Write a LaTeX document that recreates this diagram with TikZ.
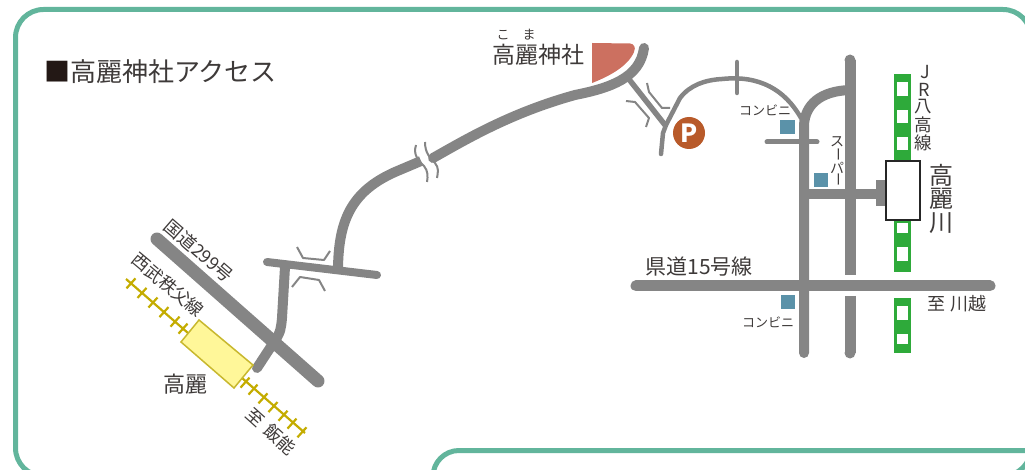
\documentclass[tikz,border=0pt]{standalone}
\usepackage{fontspec}
\setmainfont{Noto Sans CJK JP}
\definecolor{framegreen}{HTML}{62B59C}
\definecolor{roadgray}{HTML}{858585}
\definecolor{railgreen}{HTML}{2EAA3A}
\definecolor{railyellow}{HTML}{C4AC00}
\definecolor{inkc}{HTML}{3E3A39}
\definecolor{inkd}{HTML}{231815}
\definecolor{shopblue}{HTML}{5B92A9}
\definecolor{shrinered}{HTML}{CC7060}
\definecolor{parkbrown}{HTML}{B85A2A}
\definecolor{stationyellow}{HTML}{FFF799}
\definecolor{stationedge}{HTML}{C8B82E}
\tikzset{
  framel/.style={draw=framegreen,line width=5pt},
  road/.style={draw=roadgray,line cap=round,line join=round},
  markl/.style={draw=roadgray,line width=2pt,line join=round},
  shop/.style={fill=shopblue,draw=none},
  rgreen/.style={fill=railgreen,draw=none},
  rwin/.style={fill=white,draw=none},
  lab/.style={text=inkc,inner sep=0pt,font=\fontsize{#1pt}{#1pt}\selectfont},
  track/.style={draw=railyellow,line width=2.2pt},
}
\begin{document}
\begin{tikzpicture}[x=1pt,y=-1pt]
\useasboundingbox (0,0) rectangle (1025,470);
\clip (0,0) rectangle (1025,470);
% frames
\draw[framel,rounded corners=28pt] (15.5,476) -- (15.5,9.5) -- (1031,9.5) -- (1031,476) -- cycle;
\draw[framel,rounded corners=26pt] (433,520) -- (433,450.5) -- (1100,450.5);
% left roads
\draw[road,line width=13pt] (157,239) -- (318,381);
\draw[road,line width=8pt] (267,262) -- (377,275);
\draw[road,line width=10pt] (257,368) -- (274,342) .. controls (281,332) and (281,328) .. (282,318) -- (285,267);
\draw[road,line width=10pt,line cap=butt] (338,267) .. controls (339,222) and (350,192) .. (395,172) -- (421,161);
\draw[road,line width=10pt] (433,158) .. controls (465,140) and (510,113) .. (575,95) .. controls (610,88) and (640,78) .. (644,48);
% break marks
\draw[markl] (416,145) .. controls (413,155) and (418,160) .. (424,166) .. controls (428,171) and (428,176) .. (427,182);
\draw[markl] (425,142) .. controls (425,153) and (430,158) .. (435,163) .. controls (439,168) and (438,172) .. (437,178);
\draw[markl] (297,247) -- (303,258) -- (324,260) -- (330,251);
\draw[markl] (292,287) -- (300,277) -- (319,280) -- (325,291);
\draw[markl] (647,83) -- (649,92) -- (662,108) -- (670,108);
\draw[markl] (626,101) -- (635,102) -- (649,118) -- (646,127);
% shrine
\fill[shrinered] (592,43) -- (630,43.5) .. controls (634,44) and (636,47) .. (634,52) .. controls (628,66) and (610,76) .. (592,83) -- cycle;
% branch to parking
\draw[road,line width=5.5pt,line cap=butt] (628,78) -- (665,125);
\draw[road,line width=4.5pt] (661,154) -- (663,133) -- (666,125) -- (680,98) .. controls (690,85) and (705,80) .. (722,79) .. controls (760,75) and (785,90) .. (801,118);
\draw[road,line width=4.5pt] (737,62) -- (737,93);
% parking
\fill[parkbrown] (689,133) circle[radius=16];
\node[inner sep=0pt,text=white,font=\fontsize{25pt}{25pt}\selectfont\bfseries] (pk) at (689,133) {P};
% rail green
\fill[rgreen] (894,74) rectangle (911,272);
\fill[rgreen] (894,298) rectangle (911,353);
\foreach \ya/\yb in {82/96,110/123,137/150,223/233,247/261,306/320,334/344}
  \fill[rwin] (897,\ya) rectangle (908,\yb);
% right roads
\draw[road,line width=10pt] (804,353) -- (804,125) .. controls (805,105) and (820,91) .. (850,90);
\draw[road,line width=11pt,line cap=butt] (850,60) -- (850,275);
\fill[roadgray] (850,60) circle[radius=5.5];
\draw[road,line width=11pt,line cap=butt] (850,296) -- (850,353);
\fill[roadgray] (850,353) circle[radius=5.5];
\draw[road,line width=5pt] (767,142) -- (817,142);
\draw[road,line width=10pt,line cap=butt] (804,194) -- (880,194);
\fill[roadgray] (876,180) rectangle (886,206);
\draw[road,line width=11pt] (636,286) -- (990,286);
% station
\draw[draw=black!85,line width=1.4pt,fill=white] (886,161) rectangle (920,220);
% shops
\fill[shop] (780,120) rectangle (795,134);
\fill[shop] (814,173) rectangle (828,187);
\fill[shop] (781,295) rectangle (795,309);
% Seibu line
\draw[track] (126,279) -- (188,333);
\draw[track] (242,378) -- (305,433);
\foreach \tx in {131,142,153,164,175,183,245,253,263,273,283,292,302}
  \draw[track] ({\tx+4.5},{279+(\tx-126)*0.871-5}) -- ({\tx-4.5},{279+(\tx-126)*0.871+5});
\draw[draw=stationedge,line width=1.5pt,fill=stationyellow] (199,320) -- (253,365) -- (234,388) -- (181,342) -- cycle;
% labels
\node[lab=26,anchor=west] (title) at (44,72) {\textcolor{inkd}{■}高麗神社アクセス};
\node[lab=23] (shrine) at (538,55) {高麗神社};
\node[lab=13] (ko) at (503,35) {こ};
\node[lab=13] (ma) at (529,35) {ま};
\node[lab=22] (koma) at (185,384) {高麗};
\node[lab=18,rotate=-41] (r299) at (199,251) {国道299号};
\node[lab=17.5,rotate=-40] (seibu) at (168,285) {西武秩父線};
\node[lab=17.5,rotate=-42] (iida) at (271,431) {至\hspace{0.4em}飯能};
\node[lab=21] (r15) at (699,267) {県道15号線};
\node[lab=18] (kawa) at (957,304) {至\hspace{0.3em}川越};
\node[lab=13] (cv1) at (765,110) {コンビニ};
\node[lab=13] (cv2) at (768,322) {コンビニ};
\node[lab=14] (s1) at (837,142) {ス};
\node[lab=14,rotate=-90] (s2) at (837,155) {ー};
\node[lab=14] (s3) at (837,168) {パ};
\node[lab=14,rotate=-90] (s4) at (837,180) {ー};
\node[lab=18] (j) at (925,72) {J};
\node[lab=18] (rr) at (924,90) {R};
\node[lab=17.5] (ha) at (923,107) {八};
\node[lab=17.5] (ko2) at (923,125) {高};
\node[lab=17.5] (sen) at (923,143) {線};
\node[lab=24] (t1) at (941,175) {高};
\node[lab=24] (t2) at (941,199) {麗};
\node[lab=24] (t3) at (941,223) {川};
\end{tikzpicture}
\end{document}
